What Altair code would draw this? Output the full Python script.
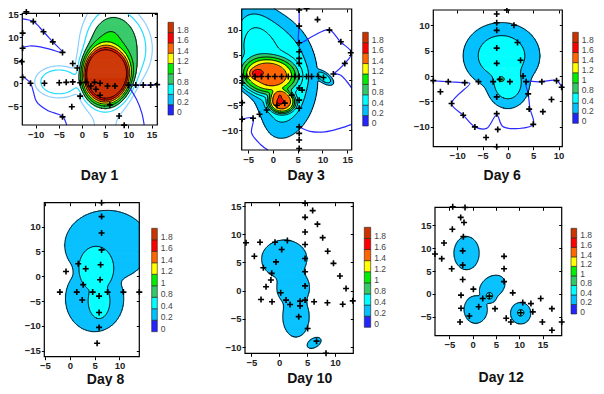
import json
import numpy as np
import pandas as pd
import altair as alt

W, H = 588, 378
FONT = "Liberation Sans"

LEVELS = [0.2, 0.4, 0.6, 0.8, 1.0, 1.2, 1.4, 1.6, 1.8]
BAND_COLORS = ["#ffffff", "#00c0ff", "#00ffff", "#00ffff", "#33c966",
               "#00ee00", "#ffff00", "#ff6600", "#ff0000", "#cc3300"]
CBAR_COLORS = ["#2424ff", "#00c0ff", "#00ffff", "#33c966", "#00ee00",
               "#ffff00", "#ff6600", "#ff0000", "#cc3300"]
CBAR_LABELS = ["0", "0.2", "0.4", "0.8", "1", "1.2", "1.4", "1.6", "1.8"]
BLUE = "#2b2bff"

# ---------------- Day 1 ----------------
DAY1_PX = [-12.0, -10.5, -8.3, -6.3, -4.2, -12.8, -12.8, -13.0, -12.8, -11.1, -8.1, -4.9,
           -3.4, -2.0, -2.0, -1.0, -0.4, 0.9, 1.9, 2.7, 3.9, 5.5, 7.1, 3.0, 3.9, -0.4,
           -2.2, -4.2, 6.0, 8.0, 9.1, 10.0, 11.6, 13.2, 14.8, 16.2]
DAY1_PY = [15.5, 13.4, 11.2, 9.0, 6.7, 10.9, 7.6, 4.7, 1.3, 0.0, 0.0, 0.1,
           0.2, 0.3, 4.3, 3.3, 0.1, 0.2, -0.6, 0.2, 0.0, -0.6, -0.6, -1.3, -2.6, -2.8,
           -5.1, -7.3, -4.7, -7.1, -9.1, -0.4, -0.4, -0.4, -0.4, -0.3]
# bump: centre x, centre y, height, spread x, spread y, flatness, angle, group
DAY1_BUMPS = [(5.0, 1.4, 2.0, 3.6, 4.2, 1.8, 0, 0),
              (8.0, 7.5, 0.6, 5.5, 6.0, 2.0, 0, 0),
              (5.0, 3.0, 0.45, 6.0, 40.0, 1.0, 0, 0),
              (-5.0, 0.3, 0.72, 4.2, 2.8, 2.0, 0, 1)]
DAY1_BLUE_X = [[-12.87, -10.5, -8.3, -6.3, -4.2, -6.6, -9.0, -11.3, -12.87],
               [-12.87, -11.1, -10.5, -9.8, -7.6, -4.7, -4.0, -3.3],
               [10.0, 11.6, 13.2, 14.8, 16.23],
               [10.2, 11.8, 12.9, 13.4]]
DAY1_BLUE_Y = [[14.0, 13.4, 11.2, 9.0, 6.7, 7.3, 7.9, 8.1, 7.8],
               [1.5, 0.0, -1.8, -4.0, -5.8, -6.9, -7.4, -9.07],
               [-0.4, -0.4, -0.4, -0.4, -0.3],
               [-0.9, -3.6, -6.5, -9.07]]

# ---------------- Day 3 ----------------
DAY3_PX = [5.3, 5.3, 5.3, 5.3, 5.3, 5.3, 5.3, 5.3, 5.3, 5.3, 5.3, 5.3, 5.3,
           -6.1, -5.3, -3.6, -2.3, -0.95, 0.4, 1.75, 3.1, 4.4, 5.3, 6.8, 7.8, 9.2,
           6.8, 9.0, 11.4, 13.7, 15.7, 14.5, 10.2, 12.2,
           -6.2, -6.2, -6.2, -4.0, -2.7, -1.25, 0.8, 2.4, 3.8, 5.9]
DAY3_PY = [13.9, 10.7, 7.4, 5.6, 4.3, 3.3, -1.6, -4.0, -5.6, -9.3, -10.6, -11.9, -13.6,
           0.7, 0.7, 0.7, 0.7, 0.7, 0.7, 0.7, 0.7, 0.7, 0.7, 0.7, 0.7, 0.7,
           14.2, 12.0, 9.9, 7.6, 5.4, 3.3, 0.5, 1.2,
           -0.6, -4.5, -7.8, -7.6, -6.8, -5.95, -5.0, -4.6, -3.0, -2.0]
DAY3_BUMPS = [(-0.5, 0.2, 0.6, 6.6, 8.8, 2.0, 0, 0),
              (-1.0, 0.9, 0.95, 4.2, 2.6, 2.0, 0, 0),
              (1.8, -4.4, 0.95, 2.0, 1.6, 2.5, 0, 0),
              (-3.4, 1.3, 0.3, 0.9, 0.6, 1.0, 0, 0),
              (1.4, -4.4, 0.15, 0.9, 0.6, 1.0, 0, 0),
              (-5.0, 11.0, 0.3, 3.5, 5.0, 1.0, 0, 0),
              (-9.0, -8.0, -0.9, 4.5, 5.5, 1.0, 0, 0),
              (10.3, 0.5, 0.55, 1.6, 0.75, 1.5, -35, 1)]
DAY3_BLUE_X = [[5.3, 5.3, 5.3, 8.2, 11.3, 13.6, 15.89, 14.5, 12.2],
               [12.2, 13.6, 14.9, 15.89],
               [5.3, 7.5, 10.5, 13.5, 15.89],
               [-6.29, -4.0, -4.3, -2.5, -1.0]]
DAY3_BLUE_Y = [[14.1, 10.7, 7.4, 8.8, 10.0, 7.6, 5.4, 3.3, 1.2],
               [1.2, 1.0, -0.3, -1.6],
               [-9.3, -10.2, -10.3, -9.6, -8.8],
               [-7.8, -7.6, -10.5, -12.8, -13.9]]

# ---------------- Day 6 ----------------
DAY6_PX = [-2.2, -0.2, -2.2, 1.2, -2.2, 1.9, -2.2, -2.2, 2.5, 3.0, -1.6, 0.4, -2.9, -5.8,
           3.6, -11.75, -8.5, -14.7, -13.3, -11.1, -8.8, -6.5, -2.2, -2.2, 4.0, 4.2, 5.0,
           6.9, 8.6, 6.7, 9.6, 10.6, -2.0, -4.3, -2.2]
DAY6_PY = [12.2, 13.0, 10.5, 10.0, 9.0, 6.6, 5.5, 2.5, 3.1, 0.0, -0.65, -1.1, -1.1, -1.1,
           -1.1, -1.1, -1.3, -0.9, -3.1, -5.4, -7.7, -10.0, -4.1, -7.4, -3.5, -6.5, -9.5,
           -7.0, -4.6, -1.1, -0.9, -2.2, -10.5, -12.1, -13.9]
DAY6_BUMPS = [(-1.25, 4.0, 0.6, 5.1, 4.4, 1.0, 0, 0),
              (0.0, -1.5, 0.6, 2.85, 3.3, 1.0, 0, 1),
              (-1.3, -0.6, 0.9, 0.55, 0.45, 3.0, 0, 2)]
DAY6_BLUE_X = [[-14.7, -11.75, -8.46, -7.48, -11.1, -8.8, -6.5, -4.2, -2.2, -0.9, 5.0,
                4.36, 4.0, 3.6, 6.7, 9.6, 10.6]]
DAY6_BLUE_Y = [[-0.92, -1.12, -1.31, -1.44, -5.4, -7.7, -10.0, -10.3, -7.7, -10.0, -9.5,
                -6.4, -3.4, -1.3, -1.12, -0.9, -2.2]]

# ---------------- Day 8 ----------------
DAY8_PX = [6.4, 6.4, 6.4, 1.7, 3.2, 6.2, -0.77, 6.1, 2.7, -2.0, 1.4, 4.6, 5.9, 7.6, 2.5,
           5.9, 5.9, 5.5, 10.8, 14.0, 6.4]
DAY8_PY = [12.0, 8.7, 5.3, 2.5, 1.5, 2.3, 0.96, -0.7, -1.7, -3.2, -3.2, -3.2, -4.0, -3.2,
           -4.8, -7.3, -10.3, -13.5, -3.2, -3.2, 14.8]
DAY8_BUMPS = [(7.5, 6.2, 0.3, 7.0, 5.8, 3.0, 0, 0),
              (5.0, -4.5, 0.3, 5.2, 5.9, 2.0, 0, 1),
              (5.3, 1.5, 0.6, 3.0, 3.8, 2.0, 0, 2),
              (5.9, -5.0, 0.6, 1.85, 3.0, 2.0, 0, 3)]

# ---------------- Day 10 ----------------
DAY10_PX = [-5.97, -3.45, -4.47, -0.76, 1.46, 4.64, 6.0, 4.64, 6.86, 4.64, 7.8, 4.64, 8.7,
            0.44, 4.64, -0.58, -2.86, 9.74, 4.64, -1.35, -1.5, 10.9, -2.37, 4.64, 12.0,
            0.26, -3.27, -1.3, 1.22, 1.94, 3.74, 3.74, 4.64, 6.26, 8.65, 11.4, 13.2, 3.5,
            5.1, 6.7, 8.4]
DAY10_PY = [8.5, 8.6, 6.1, 8.6, 8.9, 15.5, 14.2, 13.0, 11.8, 10.4, 9.4, 8.2, 7.0,
            7.3, 5.7, 5.1, 4.07, 4.85, 3.36, 3.07, 1.9, 2.6, 0.7, 0.85, 0.4,
            -0.37, -1.55, -1.97, -1.67, -2.44, -1.85, -2.7, -1.67, -1.97, -2.15, -2.4, -1.8,
            -4.6, -6.7, -8.95, -11.1]
DAY10_BUMPS = [(0.9, 5.6, 0.3, 3.6, 3.0, 2.0, 0, 0),
               (2.5, 0.5, 0.3, 2.6, 2.8, 2.0, 0, 1),
               (3.0, -4.6, 0.3, 2.1, 3.2, 2.0, 0, 2),
               (6.26, -9.25, 0.3, 1.2, 0.72, 2.0, 30, 3)]

# ---------------- Day 12 ----------------
DAY12_PX = [-4.27, -1.63, -2.56, -1.85, -4.35, -1.99, -6.14, -2.13, -8.07, -6.63, -2.13,
            -4.49, 6.74, 6.74, -2.13, 6.74, 0.16, 8.6, -2.49, 2.16, 3.59, 1.3, -2.49, 4.8,
            14.6, 10.75, 12.5, 12.9, 10.3, -0.7, 7.2, 8.2, -2.7, 14.96, 17.0, 17.0, 19.1]
DAY12_PY = [19.0, 18.85, 16.7, 15.6, 14.1, 12.5, 11.1, 9.4, 8.7, 7.7, 6.3,
            5.5, 8.2, 5.5, 3.15, 2.7, 1.05, 0.24, -0.26, -1.0, -0.48, -2.8, -3.1, -3.2,
            -1.0, -1.85, -2.1, -3.9, -4.1, -4.8, -5.3, -6.1, -6.1, -6.1, -7.9, -3.2, -6.1]
DAY12_BUMPS = [(-1.3, 8.9, 0.32, 2.17, 2.9, 3.0, 0, 0),
               (4.2, 1.5, 0.32, 2.6, 1.9, 2.0, 40, 1),
               (0.66, -3.4, 0.32, 2.13, 2.56, 2.0, 0, 2),
               (10.3, -4.2, 0.32, 1.85, 2.0, 2.0, 0, 3),
               (3.6, -0.5, 0.45, 1.2, 1.2, 1.0, 0, 4),
               (10.3, -4.1, 0.45, 1.0, 1.0, 1.0, 0, 5)]

BLACK_ALL = {lv: "#000000" for lv in LEVELS}

PANELS = [
    dict(title="Day 1", box=(14.3, 149.3, 5.3, 117.0), xdom=(-12.87, 16.23), ydom=(-9.07, 15.2),
         cbar=(160.0, 165.5, 14.3, 107.0), tpos=(91.0, 167.0),
         xt=[-10, -5, 0, 5, 10, 15], yt=[-5, 0, 5, 10, 15],
         px=DAY1_PX, py=DAY1_PY, bumps=DAY1_BUMPS, fill_min=4, union=4,
         lines={0.4: "#8ccfff", 0.6: "#22ddff", 0.8: "#000000", 1.0: "#000000",
                1.2: "#000000", 1.4: "#000000", 1.6: "#000000", 1.8: "#000000"},
         bx=DAY1_BLUE_X, by=DAY1_BLUE_Y),
    dict(title="Day 3", box=(233.7, 343.7, 1.0, 142.0), xdom=(-6.29, 15.89), ydom=(-13.9, 14.1),
         cbar=(354.7, 360.3, 24.3, 118.0), tpos=(297.7, 167.0),
         xt=[-5, 0, 5, 10, 15], yt=[-10, -5, 0, 5, 10],
         px=DAY3_PX, py=DAY3_PY, bumps=DAY3_BUMPS, fill_min=1, union=4, lines=BLACK_ALL,
         bx=DAY3_BLUE_X, by=DAY3_BLUE_Y),
    dict(title="Day 6", box=(425.3, 554.3, 2.0, 138.7), xdom=(-14.7, 10.73), ydom=(-13.9, 13.0),
         cbar=(564.7, 570.3, 24.3, 115.3), tpos=(493.7, 167.0),
         xt=[-15, -10, -5, 0, 5, 10], yt=[-10, -5, 0, 5, 10],
         px=DAY6_PX, py=DAY6_PY, bumps=DAY6_BUMPS, fill_min=1, union=4,
         lines={0.2: "#000000", 0.4: "#000000", 0.8: "#000000"},
         bx=DAY6_BLUE_X, by=DAY6_BLUE_Y),
    dict(title="Day 8", box=(36.3, 131.3, 194.7, 348.7), xdom=(-5.14, 14.0), ydom=(-16.2, 14.8),
         cbar=(143.7, 149.3, 220.3, 323.7), tpos=(97.0, 371.5),
         xt=[-5, 0, 5, 10], yt=[-15, -10, -5, 0, 5, 10],
         px=DAY8_PX, py=DAY8_PY, bumps=DAY8_BUMPS, fill_min=1, union=4,
         lines={0.2: "#000000", 0.4: "#000000"}, bx=[], by=[]),
    dict(title="Day 10", box=(237.0, 345.3, 194.7, 345.3), xdom=(-6.15, 13.3), ydom=(-11.1, 15.6),
         cbar=(356.3, 362.7, 219.3, 319.3), tpos=(301.3, 370.5),
         xt=[-5, 0, 5, 10], yt=[-10, -5, 0, 5, 10, 15],
         px=DAY10_PX, py=DAY10_PY, bumps=DAY10_BUMPS, fill_min=1, union=3,
         lines={0.2: "#000000", 0.4: "#000000"}, bx=[], by=[]),
    dict(title="Day 12", box=(427.0, 553.7, 199.3, 327.7), xdom=(-8.07, 19.1), ydom=(-9.1, 18.9),
         cbar=(563.0, 568.7, 220.3, 306.0), tpos=(492.7, 369.0),
         xt=[-5, 0, 5, 10, 15], yt=[-5, 0, 5, 10, 15],
         px=DAY12_PX, py=DAY12_PY, bumps=DAY12_BUMPS, fill_min=1, union=4,
         lines={0.2: "#000000", 0.4: "#000000"}, bx=[], by=[]),
]


def field(X, Y, bumps, union):
    groups = {}
    for cx, cy, a, sx, sy, p, ang, g in bumps:
        t = np.deg2rad(ang)
        dx, dy = X - cx, Y - cy
        u = (dx * np.cos(t) + dy * np.sin(t)) / sx
        v = (-dx * np.sin(t) + dy * np.cos(t)) / sy
        groups[g] = groups.get(g, 0) + a * np.exp(-((u * u + v * v) / 2.0) ** p)
    vals = [np.clip(g, 0, None) for g in groups.values()]
    if len(vals) == 1:
        return vals[0]
    # smooth union of the separate groups
    return sum(v ** union for v in vals) ** (1.0 / union)


def contour_paths(xs, ys, F, L):
    A = F >= L
    pts = {}
    hj, hi = np.nonzero(A[:, :-1] != A[:, 1:])
    for j, i in zip(hj.tolist(), hi.tolist()):
        f0, f1 = F[j, i], F[j, i + 1]
        t = (L - f0) / (f1 - f0)
        pts[("h", j, i)] = (xs[i] + t * (xs[i + 1] - xs[i]), ys[j])
    vj, vi = np.nonzero(A[:-1, :] != A[1:, :])
    for j, i in zip(vj.tolist(), vi.tolist()):
        f0, f1 = F[j, i], F[j + 1, i]
        t = (L - f0) / (f1 - f0)
        pts[("v", j, i)] = (xs[i], ys[j] + t * (ys[j + 1] - ys[j]))
    adj = {}

    def link(a, b):
        adj.setdefault(a, []).append(b)
        adj.setdefault(b, []).append(a)

    s = A[:-1, :-1].astype(int) + A[:-1, 1:] + A[1:, :-1] + A[1:, 1:]
    cj, ci = np.nonzero((s > 0) & (s < 4))
    for j, i in zip(cj.tolist(), ci.tolist()):
        eb, er, et, el = ("h", j, i), ("v", j, i + 1), ("h", j + 1, i), ("v", j, i)
        present = [e for e in (eb, er, et, el) if e in pts]
        if len(present) == 2:
            link(present[0], present[1])
        elif len(present) == 4:
            centre = (F[j, i] + F[j, i + 1] + F[j + 1, i] + F[j + 1, i + 1]) / 4 >= L
            if centre == A[j, i]:
                link(eb, er)
                link(et, el)
            else:
                link(eb, el)
                link(er, et)
    paths = []
    seen = set()
    starts = [e for e, n in adj.items() if len(n) == 1] + list(adj.keys())
    for st in starts:
        if st in seen:
            continue
        path = [st]
        seen.add(st)
        cur = st
        while True:
            nxt = [n for n in adj[cur] if n not in seen]
            if not nxt:
                if len(path) > 2 and st in adj[cur]:
                    path.append(st)
                break
            cur = nxt[0]
            seen.add(cur)
            path.append(cur)
        paths.append([pts[e] for e in path])
    return paths


AX_STYLE = dict(labelFont=FONT, labelFontSize=9.5, labelFontWeight="bold", labelColor="#222222",
                tickSize=3, tickColor="#000000", labelPadding=1, domain=False, grid=False,
                labelFlush=False, labelOverlap=False)


def build_panel(k, P):
    x0p, x1p, y0p, y1p = P["box"]
    xmin, xmax = P["xdom"]
    ymin, ymax = P["ydom"]
    nx = int(round(x1p - x0p))
    ny = int(round(y1p - y0p))
    xs = np.linspace(xmin, xmax, nx + 1)
    ys = np.linspace(ymin, ymax, ny + 1)
    XX, YY = np.meshgrid(xs, ys)
    F = field(XX, YY, P["bumps"], P["union"])
    XC, YC = np.meshgrid((xs[:-1] + xs[1:]) / 2, (ys[:-1] + ys[1:]) / 2)
    band = np.searchsorted(LEVELS, field(XC, YC, P["bumps"], P["union"]), side="right")
    rects = []
    for j in range(ny):
        row = band[j]
        ch = np.nonzero(np.diff(row))[0] + 1
        st = np.concatenate([[0], ch])
        en = np.concatenate([ch, [nx]])
        for s, e in zip(st.tolist(), en.tolist()):
            b = int(row[s])
            if b >= P["fill_min"]:
                rects.append((round(xs[s], 3), round(xs[e], 3), round(ys[j], 3),
                              round(ys[j + 1], 3), BAND_COLORS[b]))
    rect_df = pd.DataFrame(rects, columns=["x", "x2", "y", "y2", "c"])

    rows = []
    pid = 0
    for lv, col in P["lines"].items():
        for path in contour_paths(xs, ys, F, lv):
            if len(path) < 2:
                continue
            for o, (px, py) in enumerate(path):
                rows.append((round(px, 3), round(py, 3), o, f"{k}_{pid}", col,
                             1.0 if col == "#000000" else 1.2))
            pid += 1
    line_df = pd.DataFrame(rows, columns=["x", "y", "o", "id", "c", "w"])

    brow = []
    for m, (lx, ly) in enumerate(zip(P["bx"], P["by"])):
        for o, (a, b) in enumerate(zip(lx, ly)):
            brow.append((a, b, o, f"b{k}_{m}"))
    blue_df = pd.DataFrame(brow, columns=["x", "y", "o", "id"])

    pts_df = pd.DataFrame({"x": P["px"], "y": P["py"]})
    box_df = pd.DataFrame({"x": [xmin], "x2": [xmax], "y": [ymin], "y2": [ymax]})

    xsc = alt.Scale(domain=[xmin, xmax], range=[x0p, x1p], nice=False, zero=False)
    ysc = alt.Scale(domain=[ymin, ymax], range=[y1p, y0p], nice=False, zero=False)
    xaxis = alt.Axis(orient="bottom", offset=y1p - H, values=P["xt"], title=P["title"],
                     titleFont=FONT, titleFontSize=14, titleFontWeight="bold", titleColor="#111111",
                     titleX=P["tpos"][0], titleY=P["tpos"][1] - y1p, titleAlign="center",
                     titleBaseline="middle", **AX_STYLE)
    yaxis = alt.Axis(orient="left", offset=-x0p, values=P["yt"], title=None, **AX_STYLE)
    # inward ticks on the top and right edges of the frame
    xaxis_t = alt.Axis(orient="top", offset=-(y0p + 3), values=P["xt"], title=None, labels=False,
                       domain=False, grid=False, tickSize=3, tickColor="#000000")
    yaxis_r = alt.Axis(orient="right", offset=x1p - 3 - W, values=P["yt"], title=None,
                       labels=False, domain=False, grid=False, tickSize=3, tickColor="#000000")
    XN = alt.X("x:Q", scale=xsc, axis=None)
    YN = alt.Y("y:Q", scale=ysc, axis=None)

    layers = []
    layers.append(alt.Chart(rect_df).mark_rect(strokeWidth=0.6).encode(
        x=XN, x2="x2:Q", y=YN, y2="y2:Q",
        color=alt.Color("c:N", scale=None), stroke=alt.Stroke("c:N", scale=None)))
    if len(line_df):
        layers.append(alt.Chart(line_df).mark_line(strokeCap="round", strokeJoin="round").encode(
            x=XN, y=YN, detail="id:N", order="o:Q",
            color=alt.Color("c:N", scale=None), strokeWidth=alt.StrokeWidth("w:Q", scale=None)))
    if len(blue_df):
        layers.append(alt.Chart(blue_df).mark_line(interpolate="catmull-rom", color=BLUE,
                                                   strokeWidth=1.2).encode(
            x=XN, y=YN, detail="id:N", order="o:Q"))
    layers.append(alt.Chart(box_df).mark_rect(fillOpacity=0, strokeOpacity=0).encode(
        x=alt.X("x:Q", scale=xsc, axis=xaxis_t), x2="x2:Q",
        y=alt.Y("y:Q", scale=ysc, axis=yaxis_r), y2="y2:Q"))
    layers.append(alt.Chart(box_df).mark_rect(fillOpacity=0, stroke="#000000", strokeWidth=1.2).encode(
        x=alt.X("x:Q", scale=xsc, axis=xaxis), x2="x2:Q",
        y=alt.Y("y:Q", scale=ysc, axis=yaxis), y2="y2:Q"))
    layers.append(alt.Chart(pts_df).mark_point(shape="M-1,0L1,0M0,-1L0,1", size=36, strokeWidth=1.6,
                                               color="#000000", opacity=1, filled=False).encode(
        x=XN, y=YN))
    return alt.layer(*layers).resolve_axis(x="independent", y="independent")


LBL_OFF = 0.3
LBL_POS = [LBL_OFF + k for k in range(len(CBAR_LABELS))]
LBL_EXPR = json.dumps(CBAR_LABELS) + f"[round(datum.value-{LBL_OFF})]"


def build_cbar(P):
    cx0, cx1, cy0, cy1 = P["cbar"]
    n = len(CBAR_COLORS)
    df = pd.DataFrame({"i": list(range(n)), "i1": [i + 1 for i in range(n)],
                       "a": [0] * n, "b": [1] * n, "c": CBAR_COLORS})
    yaxis = alt.Axis(orient="right", offset=cx1 - W, values=LBL_POS, labelExpr=LBL_EXPR,
                     ticks=False, domain=False, grid=False, title=None, labelFont=FONT,
                     labelFontSize=8.5, labelColor="#444444", labelPadding=3,
                     labelFlush=False, labelOverlap=False)
    return alt.Chart(df).mark_rect(stroke="#222222", strokeWidth=0.6).encode(
        x=alt.X("a:Q", scale=alt.Scale(domain=[0, 1], range=[cx0, cx1]), axis=None), x2="b:Q",
        y=alt.Y("i:Q", scale=alt.Scale(domain=[0, n], range=[cy1, cy0],
                                       nice=False, zero=False), axis=yaxis),
        y2="i1:Q", color=alt.Color("c:N", scale=None))


panels = [build_panel(k, P) for k, P in enumerate(PANELS)]
cbars = [build_cbar(P) for P in PANELS]

chart = alt.layer(*panels, *cbars).resolve_scale(
    x="independent", y="independent"
).properties(
    width=W, height=H, padding=0, autosize=alt.AutoSizeParams(type="none")
).configure_view(strokeWidth=0)

chart.save("out.html", embed_options={"renderer": "svg", "actions": False})
